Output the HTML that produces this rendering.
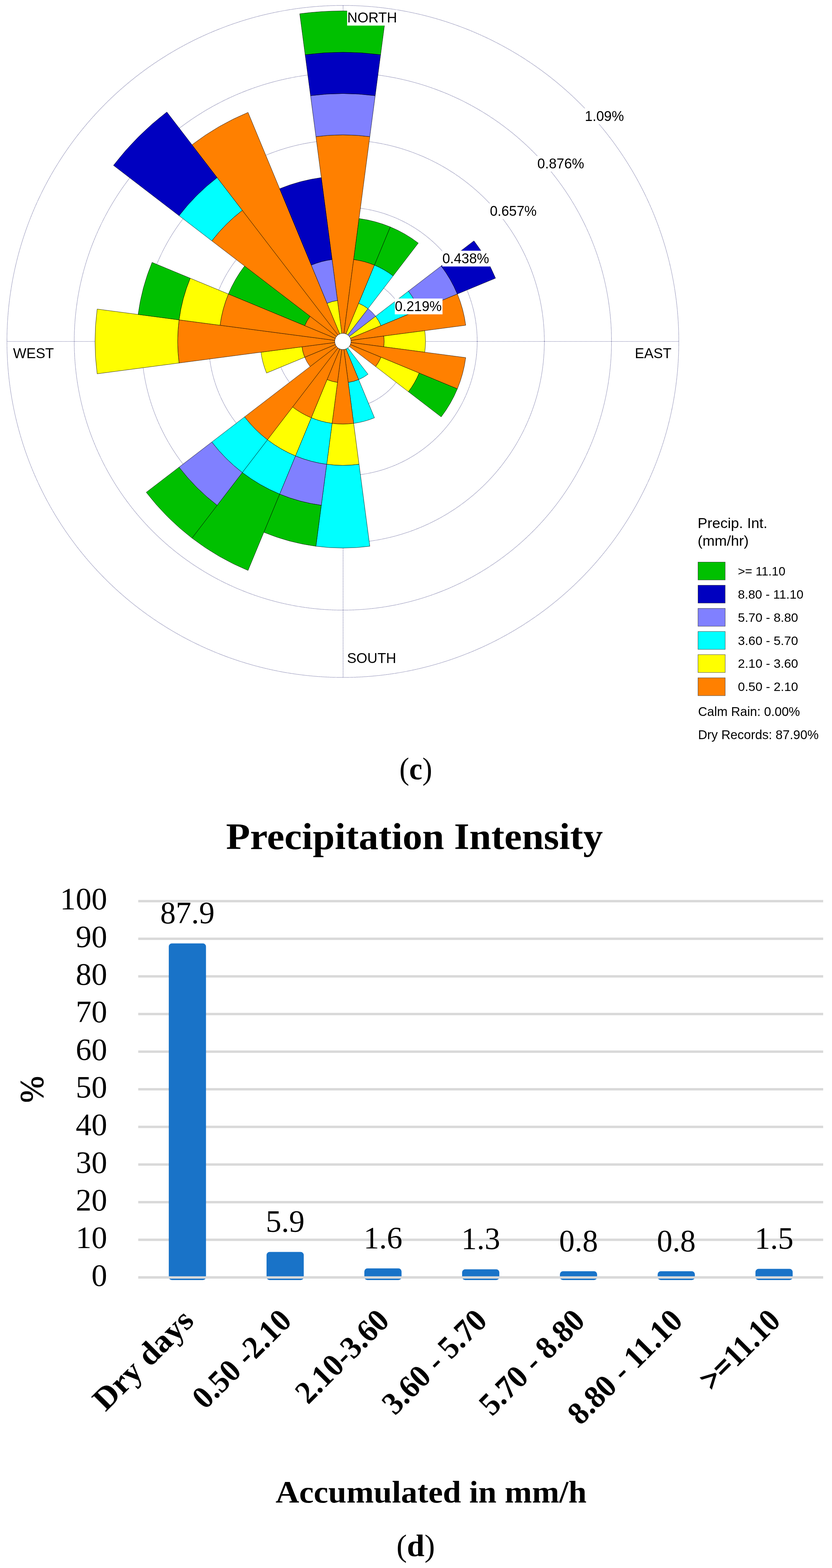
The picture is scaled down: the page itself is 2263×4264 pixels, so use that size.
<!DOCTYPE html>
<html lang="en"><head><meta charset="utf-8"><title>Precipitation rose and intensity</title>
<style>
html,body{margin:0;padding:0;background:#fff;}
body{width:2263px;height:4264px;overflow:hidden;}
svg{display:block;}
.sans{font-family:"Liberation Sans",Arial,Helvetica,sans-serif;fill:#000;}
.serif{font-family:"Liberation Serif","Times New Roman",serif;fill:#000;}
.b{font-weight:bold;}
.grid{fill:none;stroke:#2e2e76;stroke-width:1.2;stroke-dasharray:1.3 1.5;stroke-opacity:1;}
.w{stroke:#000;stroke-width:0.85;stroke-linejoin:miter;}
</style></head><body>
<svg width="2263" height="4264" viewBox="0 0 2263 4264">
<rect width="2263" height="4264" fill="#fff"/>
<g class="grid">
<circle cx="932.6" cy="928.5" r="182.67"/>
<circle cx="932.6" cy="928.5" r="365.34"/>
<circle cx="932.6" cy="928.5" r="548.01"/>
<circle cx="932.6" cy="928.5" r="730.68"/>
<circle cx="932.6" cy="928.5" r="913.70"/>
<line x1="19.25" y1="928.5" x2="1845.95" y2="928.5"/>
<line x1="933.2" y1="15.15" x2="933.2" y2="1841.85"/>
</g>
<g class="w">
<path d="M932.60 928.50L859.28 371.56A561.75 561.75 0 0 1 1005.92 371.56Z" fill="#FF8000"/>
<path d="M844.61 260.17A674.10 674.10 0 0 1 1020.59 260.17L1005.92 371.56A561.75 561.75 0 0 0 859.28 371.56Z" fill="#8080FF"/>
<path d="M829.95 148.78A786.45 786.45 0 0 1 1035.25 148.78L1020.59 260.17A674.10 674.10 0 0 0 844.61 260.17Z" fill="#0000C0"/>
<path d="M815.28 37.39A898.80 898.80 0 0 1 1049.92 37.39L1035.25 148.78A786.45 786.45 0 0 0 829.95 148.78Z" fill="#00C000"/>
<path d="M932.60 928.50L961.93 705.72A224.70 224.70 0 0 1 1018.59 720.90Z" fill="#FF8000"/>
<path d="M976.59 594.33A337.05 337.05 0 0 1 1061.58 617.11L1018.59 720.90A224.70 224.70 0 0 0 961.93 705.72Z" fill="#00C000"/>
<path d="M932.60 928.50L975.59 824.70A112.35 112.35 0 0 1 1000.99 839.37Z" fill="#FFFF00"/>
<path d="M1018.59 720.90A224.70 224.70 0 0 1 1069.39 750.23L1000.99 839.37A112.35 112.35 0 0 0 975.59 824.70Z" fill="#00FFFF"/>
<path d="M1061.58 617.11A337.05 337.05 0 0 1 1137.78 661.10L1069.39 750.23A224.70 224.70 0 0 0 1018.59 720.90Z" fill="#00C000"/>
<path d="M932.60 928.50L1000.99 839.37A112.35 112.35 0 0 1 1021.73 860.11Z" fill="#8080FF"/>
<path d="M932.60 928.50L1021.73 860.11A112.35 112.35 0 0 1 1036.40 885.51Z" fill="#FFFF00"/>
<path d="M1110.87 791.71A224.70 224.70 0 0 1 1140.20 842.51L1036.40 885.51A112.35 112.35 0 0 0 1021.73 860.11Z" fill="#00FFFF"/>
<path d="M1200.00 723.32A337.05 337.05 0 0 1 1243.99 799.52L1140.20 842.51A224.70 224.70 0 0 0 1110.87 791.71Z" fill="#8080FF"/>
<path d="M1289.13 654.92A449.40 449.40 0 0 1 1347.79 756.52L1243.99 799.52A337.05 337.05 0 0 0 1200.00 723.32Z" fill="#0000C0"/>
<path d="M932.60 928.50L1243.99 799.52A337.05 337.05 0 0 1 1266.77 884.51Z" fill="#FF8000"/>
<path d="M932.60 928.50L1043.99 913.84A112.35 112.35 0 0 1 1043.99 943.16Z" fill="#FF8000"/>
<path d="M1155.38 899.17A224.70 224.70 0 0 1 1155.38 957.83L1043.99 943.16A112.35 112.35 0 0 0 1043.99 913.84Z" fill="#FFFF00"/>
<path d="M932.60 928.50L1266.77 972.49A337.05 337.05 0 0 1 1243.99 1057.48Z" fill="#FF8000"/>
<path d="M932.60 928.50L1036.40 971.49A112.35 112.35 0 0 1 1021.73 996.89Z" fill="#FF8000"/>
<path d="M1140.20 1014.49A224.70 224.70 0 0 1 1110.87 1065.29L1021.73 996.89A112.35 112.35 0 0 0 1036.40 971.49Z" fill="#FFFF00"/>
<path d="M1243.99 1057.48A337.05 337.05 0 0 1 1200.00 1133.68L1110.87 1065.29A224.70 224.70 0 0 0 1140.20 1014.49Z" fill="#00C000"/>
<path d="M932.60 928.50L1000.99 1017.63A112.35 112.35 0 0 1 975.59 1032.30Z" fill="#00FFFF"/>
<path d="M932.60 928.50L975.59 1032.30A112.35 112.35 0 0 1 947.26 1039.89Z" fill="#FF8000"/>
<path d="M1018.59 1136.10A224.70 224.70 0 0 1 961.93 1151.28L947.26 1039.89A112.35 112.35 0 0 0 975.59 1032.30Z" fill="#00FFFF"/>
<path d="M932.60 928.50L961.93 1151.28A224.70 224.70 0 0 1 903.27 1151.28Z" fill="#FF8000"/>
<path d="M976.59 1262.67A337.05 337.05 0 0 1 888.61 1262.67L903.27 1151.28A224.70 224.70 0 0 0 961.93 1151.28Z" fill="#FFFF00"/>
<path d="M1005.92 1485.44A561.75 561.75 0 0 1 859.28 1485.44L888.61 1262.67A337.05 337.05 0 0 0 976.59 1262.67Z" fill="#00FFFF"/>
<path d="M932.60 928.50L917.94 1039.89A112.35 112.35 0 0 1 889.61 1032.30Z" fill="#FF8000"/>
<path d="M903.27 1151.28A224.70 224.70 0 0 1 846.61 1136.10L889.61 1032.30A112.35 112.35 0 0 0 917.94 1039.89Z" fill="#FFFF00"/>
<path d="M888.61 1262.67A337.05 337.05 0 0 1 803.62 1239.89L846.61 1136.10A224.70 224.70 0 0 0 903.27 1151.28Z" fill="#00FFFF"/>
<path d="M873.94 1374.06A449.40 449.40 0 0 1 760.62 1343.69L803.62 1239.89A337.05 337.05 0 0 0 888.61 1262.67Z" fill="#8080FF"/>
<path d="M859.28 1485.44A561.75 561.75 0 0 1 717.63 1447.49L760.62 1343.69A449.40 449.40 0 0 0 873.94 1374.06Z" fill="#00C000"/>
<path d="M932.60 928.50L846.61 1136.10A224.70 224.70 0 0 1 795.81 1106.77Z" fill="#FF8000"/>
<path d="M803.62 1239.89A337.05 337.05 0 0 1 727.42 1195.90L795.81 1106.77A224.70 224.70 0 0 0 846.61 1136.10Z" fill="#FFFF00"/>
<path d="M760.62 1343.69A449.40 449.40 0 0 1 659.02 1285.03L727.42 1195.90A337.05 337.05 0 0 0 803.62 1239.89Z" fill="#00FFFF"/>
<path d="M674.63 1551.29A674.10 674.10 0 0 1 522.23 1463.30L659.02 1285.03A449.40 449.40 0 0 0 760.62 1343.69Z" fill="#00C000"/>
<path d="M932.60 928.50L727.42 1195.90A337.05 337.05 0 0 1 665.20 1133.68Z" fill="#FF8000"/>
<path d="M659.02 1285.03A449.40 449.40 0 0 1 576.07 1202.08L665.20 1133.68A337.05 337.05 0 0 0 727.42 1195.90Z" fill="#00FFFF"/>
<path d="M590.63 1374.17A561.75 561.75 0 0 1 486.93 1270.47L576.07 1202.08A449.40 449.40 0 0 0 659.02 1285.03Z" fill="#8080FF"/>
<path d="M522.23 1463.30A674.10 674.10 0 0 1 397.80 1338.87L486.93 1270.47A561.75 561.75 0 0 0 590.63 1374.17Z" fill="#00C000"/>
<path d="M932.60 928.50L843.47 996.89A112.35 112.35 0 0 1 828.80 971.49Z" fill="#FF8000"/>
<path d="M932.60 928.50L828.80 971.49A112.35 112.35 0 0 1 821.21 943.16Z" fill="#FF8000"/>
<path d="M725.00 1014.49A224.70 224.70 0 0 1 709.82 957.83L821.21 943.16A112.35 112.35 0 0 0 828.80 971.49Z" fill="#FFFF00"/>
<path d="M932.60 928.50L487.04 987.16A449.40 449.40 0 0 1 487.04 869.84Z" fill="#FF8000"/>
<path d="M264.27 1016.49A674.10 674.10 0 0 1 264.27 840.51L487.04 869.84A449.40 449.40 0 0 0 487.04 987.16Z" fill="#FFFF00"/>
<path d="M932.60 928.50L598.43 884.51A337.05 337.05 0 0 1 621.21 799.52Z" fill="#FF8000"/>
<path d="M487.04 869.84A449.40 449.40 0 0 1 517.41 756.52L621.21 799.52A337.05 337.05 0 0 0 598.43 884.51Z" fill="#FFFF00"/>
<path d="M375.66 855.18A561.75 561.75 0 0 1 413.61 713.53L517.41 756.52A449.40 449.40 0 0 0 487.04 869.84Z" fill="#00C000"/>
<path d="M932.60 928.50L828.80 885.51A112.35 112.35 0 0 1 843.47 860.11Z" fill="#FF8000"/>
<path d="M621.21 799.52A337.05 337.05 0 0 1 665.20 723.32L843.47 860.11A112.35 112.35 0 0 0 828.80 885.51Z" fill="#00C000"/>
<path d="M932.60 928.50L576.07 654.92A449.40 449.40 0 0 1 659.02 571.97Z" fill="#FF8000"/>
<path d="M486.93 586.53A561.75 561.75 0 0 1 590.63 482.83L659.02 571.97A449.40 449.40 0 0 0 576.07 654.92Z" fill="#00FFFF"/>
<path d="M308.67 449.74A786.45 786.45 0 0 1 453.84 304.57L590.63 482.83A561.75 561.75 0 0 0 486.93 586.53Z" fill="#0000C0"/>
<path d="M932.60 928.50L522.23 393.70A674.10 674.10 0 0 1 674.63 305.71Z" fill="#FF8000"/>
<path d="M932.60 928.50L889.61 824.70A112.35 112.35 0 0 1 917.94 817.11Z" fill="#FFFF00"/>
<path d="M846.61 720.90A224.70 224.70 0 0 1 903.27 705.72L917.94 817.11A112.35 112.35 0 0 0 889.61 824.70Z" fill="#8080FF"/>
<path d="M760.62 513.31A449.40 449.40 0 0 1 873.94 482.94L903.27 705.72A224.70 224.70 0 0 0 846.61 720.90Z" fill="#0000C0"/>
</g>
<circle cx="932.6" cy="928.5" r="22.2" fill="#fff" stroke="#000" stroke-width="1"/>
<rect x="1073.8" y="811.8" width="129.8" height="43.0" fill="#fff"/><text class="sans" x="1074.1" y="846.4" font-size="38.5" textLength="127.3" lengthAdjust="spacingAndGlyphs">0.219%</text>
<rect x="1202.9" y="681.7" width="129.8" height="43.0" fill="#fff"/><text class="sans" x="1203.2" y="716.3" font-size="38.5" textLength="127.3" lengthAdjust="spacingAndGlyphs">0.438%</text>
<rect x="1332.1" y="552.5" width="129.8" height="43.0" fill="#fff"/><text class="sans" x="1332.4" y="587.1" font-size="38.5" textLength="127.3" lengthAdjust="spacingAndGlyphs">0.657%</text>
<rect x="1461.3" y="423.3" width="129.8" height="43.0" fill="#fff"/><text class="sans" x="1461.6" y="457.9" font-size="38.5" textLength="127.3" lengthAdjust="spacingAndGlyphs">0.876%</text>
<rect x="1590.4" y="294.2" width="108.4" height="43.0" fill="#fff"/><text class="sans" x="1590.7" y="328.8" font-size="38.5" textLength="106.4" lengthAdjust="spacingAndGlyphs">1.09%</text>
<rect x="944.2" y="26.6" width="135.4" height="43.0" fill="#fff"/><text class="sans" x="944.5" y="61.2" font-size="38.5" textLength="135.5" lengthAdjust="spacingAndGlyphs">NORTH</text>
<rect x="1726.4" y="939.0" width="99.8" height="43.0" fill="#fff"/><text class="sans" x="1726.7" y="973.6" font-size="38.5" textLength="99.6" lengthAdjust="spacingAndGlyphs">EAST</text>
<rect x="35.1" y="939.0" width="110.4" height="43.0" fill="#fff"/><text class="sans" x="35.4" y="973.6" font-size="38.5" textLength="111.2" lengthAdjust="spacingAndGlyphs">WEST</text>
<rect x="943.6" y="1768.0" width="134.0" height="43.0" fill="#fff"/><text class="sans" x="943.9" y="1802.6" font-size="38.5" textLength="133.7" lengthAdjust="spacingAndGlyphs">SOUTH</text>
<text class="sans" x="1897.6" y="1435.8" font-size="39.7">Precip. Int.</text>
<text class="sans" x="1897.6" y="1484" font-size="39.7">(mm/hr)</text>
<rect x="1898.5" y="1528.5" width="74" height="48.6" fill="#00C000" stroke="#404040" stroke-width="1"/>
<text class="sans" x="2007" y="1564.7" font-size="33.7" textLength="129.2" lengthAdjust="spacingAndGlyphs">&gt;= 11.10</text>
<rect x="1898.5" y="1591.4" width="74" height="48.6" fill="#0000C0" stroke="#404040" stroke-width="1"/>
<text class="sans" x="2007" y="1627.6" font-size="33.7" textLength="178.4" lengthAdjust="spacingAndGlyphs">8.80 - 11.10</text>
<rect x="1898.5" y="1654.4" width="74" height="48.6" fill="#8080FF" stroke="#404040" stroke-width="1"/>
<text class="sans" x="2007" y="1690.6" font-size="33.7" textLength="163.9" lengthAdjust="spacingAndGlyphs">5.70 - 8.80</text>
<rect x="1898.5" y="1717.3" width="74" height="48.6" fill="#00FFFF" stroke="#404040" stroke-width="1"/>
<text class="sans" x="2007" y="1753.5" font-size="33.7" textLength="163.9" lengthAdjust="spacingAndGlyphs">3.60 - 5.70</text>
<rect x="1898.5" y="1780.2" width="74" height="48.6" fill="#FFFF00" stroke="#404040" stroke-width="1"/>
<text class="sans" x="2007" y="1816.4" font-size="33.7" textLength="163.9" lengthAdjust="spacingAndGlyphs">2.10 - 3.60</text>
<rect x="1898.5" y="1843.2" width="74" height="48.6" fill="#FF8000" stroke="#404040" stroke-width="1"/>
<text class="sans" x="2007" y="1879.4" font-size="33.7" textLength="163.9" lengthAdjust="spacingAndGlyphs">0.50 - 2.10</text>
<text class="sans" x="1898.7" y="1946.8" font-size="34.4">Calm Rain: 0.00%</text>
<text class="sans" x="1898.7" y="2010.4" font-size="34.5">Dry Records: 87.90%</text>
<text class="serif" x="1130.9" y="2119.4" font-size="85.5" text-anchor="middle" textLength="89.5" lengthAdjust="spacingAndGlyphs">(<tspan class="b">c</tspan>)</text>
<text class="serif b" x="1127.3" y="2309.3" font-size="101.5" text-anchor="middle" textLength="1025" lengthAdjust="spacingAndGlyphs">Precipitation Intensity</text>
<rect x="376" y="3470.5" width="1863" height="6.5" fill="#D9D9D9"/>
<text class="serif" x="291.5" y="3496.5" font-size="85.5" text-anchor="end">0</text>
<rect x="376" y="3368.2" width="1863" height="6.5" fill="#D9D9D9"/>
<text class="serif" x="291.5" y="3394.2" font-size="85.5" text-anchor="end">10</text>
<rect x="376" y="3265.9" width="1863" height="6.5" fill="#D9D9D9"/>
<text class="serif" x="291.5" y="3291.9" font-size="85.5" text-anchor="end">20</text>
<rect x="376" y="3163.5" width="1863" height="6.5" fill="#D9D9D9"/>
<text class="serif" x="291.5" y="3189.5" font-size="85.5" text-anchor="end">30</text>
<rect x="376" y="3061.2" width="1863" height="6.5" fill="#D9D9D9"/>
<text class="serif" x="291.5" y="3087.2" font-size="85.5" text-anchor="end">40</text>
<rect x="376" y="2958.9" width="1863" height="6.5" fill="#D9D9D9"/>
<text class="serif" x="291.5" y="2984.9" font-size="85.5" text-anchor="end">50</text>
<rect x="376" y="2856.6" width="1863" height="6.5" fill="#D9D9D9"/>
<text class="serif" x="291.5" y="2882.6" font-size="85.5" text-anchor="end">60</text>
<rect x="376" y="2754.3" width="1863" height="6.5" fill="#D9D9D9"/>
<text class="serif" x="291.5" y="2780.3" font-size="85.5" text-anchor="end">70</text>
<rect x="376" y="2651.9" width="1863" height="6.5" fill="#D9D9D9"/>
<text class="serif" x="291.5" y="2677.9" font-size="85.5" text-anchor="end">80</text>
<rect x="376" y="2549.6" width="1863" height="6.5" fill="#D9D9D9"/>
<text class="serif" x="291.5" y="2575.6" font-size="85.5" text-anchor="end">90</text>
<rect x="376" y="2447.3" width="1863" height="6.5" fill="#D9D9D9"/>
<text class="serif" x="291.5" y="2473.3" font-size="85.5" text-anchor="end">100</text>
<rect x="459.1" y="2565.6" width="101.2" height="915.4" rx="8.5" ry="8.5" fill="#1973C8"/>
<text class="serif" x="509.8" y="2511.1" font-size="84.5" text-anchor="middle">87.9</text>
<text class="serif b" font-size="87" text-anchor="end" transform="translate(531.3 3596.0) rotate(-45) scale(1.029 1)" x="0" y="0">Dry days</text>
<rect x="725.0" y="3404.6" width="101.2" height="76.4" rx="8.5" ry="8.5" fill="#1973C8"/>
<text class="serif" x="775.8" y="3350.1" font-size="84.5" text-anchor="middle">5.9</text>
<text class="serif b" font-size="87" text-anchor="end" transform="translate(797.2 3596.0) rotate(-45) scale(0.953 1)" x="0" y="0">0.50 -2.10</text>
<rect x="991.0" y="3449.3" width="101.2" height="31.7" rx="8.5" ry="8.5" fill="#1973C8"/>
<text class="serif" x="1041.7" y="3394.8" font-size="84.5" text-anchor="middle">1.6</text>
<text class="serif b" font-size="87" text-anchor="end" transform="translate(1063.2 3596.0) rotate(-45) scale(0.955 1)" x="0" y="0">2.10-3.60</text>
<rect x="1256.9" y="3451.8" width="101.2" height="29.2" rx="8.5" ry="8.5" fill="#1973C8"/>
<text class="serif" x="1307.6" y="3397.3" font-size="84.5" text-anchor="middle">1.3</text>
<text class="serif b" font-size="87" text-anchor="end" transform="translate(1329.1 3596.0) rotate(-45) scale(0.957 1)" x="0" y="0">3.60 - 5.70</text>
<rect x="1522.9" y="3457.0" width="101.2" height="24.0" rx="8.5" ry="8.5" fill="#1973C8"/>
<text class="serif" x="1573.6" y="3402.5" font-size="84.5" text-anchor="middle">0.8</text>
<text class="serif b" font-size="87" text-anchor="end" transform="translate(1595.1 3596.0) rotate(-45) scale(0.965 1)" x="0" y="0">5.70 - 8.80</text>
<rect x="1788.8" y="3457.0" width="101.2" height="24.0" rx="8.5" ry="8.5" fill="#1973C8"/>
<text class="serif" x="1839.5" y="3402.5" font-size="84.5" text-anchor="middle">0.8</text>
<text class="serif b" font-size="87" text-anchor="end" transform="translate(1861.0 3596.0) rotate(-45) scale(0.96 1)" x="0" y="0">8.80 - 11.10</text>
<rect x="2054.8" y="3450.5" width="101.2" height="30.5" rx="8.5" ry="8.5" fill="#1973C8"/>
<text class="serif" x="2105.5" y="3396.0" font-size="84.5" text-anchor="middle">1.5</text>
<text class="serif b" font-size="87" text-anchor="end" transform="translate(2127.0 3596.0) rotate(-45) scale(0.923 1)" x="0" y="0"><tspan stroke="#000" stroke-width="2.2">&gt;=</tspan>11.10</text>
<rect x="376" y="3470.7" width="1863" height="6.4" fill="#D9D9D9"/>
<text class="serif" font-size="91" text-anchor="middle" stroke="#000" stroke-width="1.2" transform="translate(116.6 2962.5) rotate(-90) scale(0.955 1)" x="0" y="0">%</text>
<text class="serif b" x="1172.5" y="4085.8" font-size="84.5" text-anchor="middle" textLength="846" lengthAdjust="spacingAndGlyphs">Accumulated in mm/h</text>
<text class="serif" x="1130.7" y="4232.2" font-size="85.5" text-anchor="middle" textLength="105" lengthAdjust="spacingAndGlyphs">(<tspan class="b">d</tspan>)</text>
</svg></body></html>
